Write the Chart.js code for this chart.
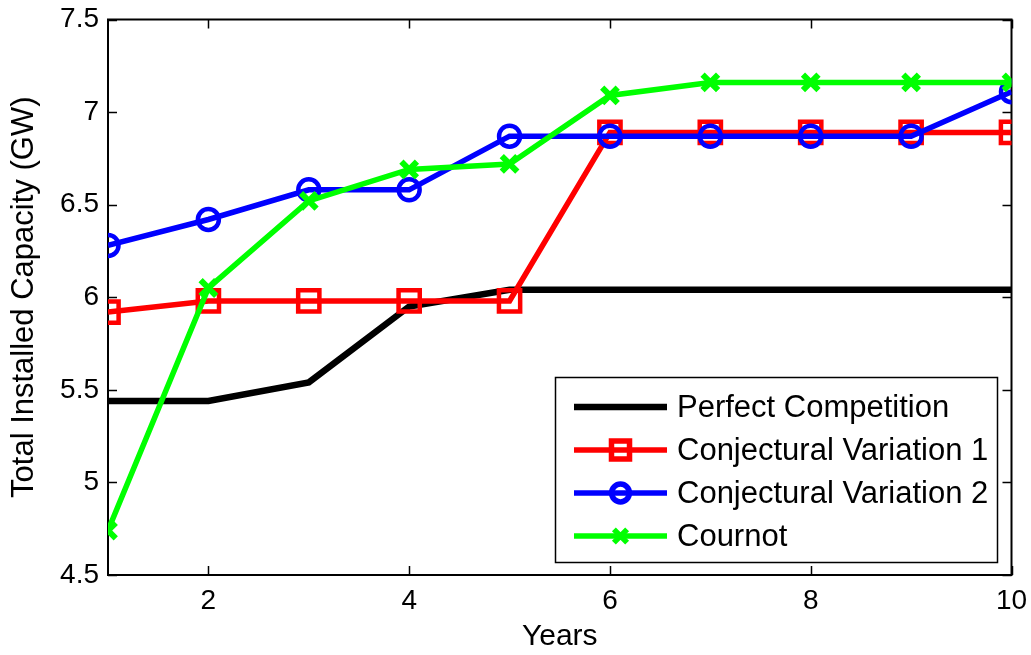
<!DOCTYPE html>
<html>
<head>
<meta charset="utf-8">
<title>Total Installed Capacity</title>
<script src="https://cdn.jsdelivr.net/npm/chart.js@4.4.1/dist/chart.umd.min.js"></script>
<style>
  html, body { margin: 0; padding: 0; background: #fff; }
  #chart { display: block; }
</style>
</head>
<body>
<canvas id="chart" width="1031" height="655"></canvas>
<script>
const years = [1, 2, 3, 4, 5, 6, 7, 8, 9, 10];
const perfectCompetition = [5.44, 5.44, 5.54, 5.95, 6.04, 6.04, 6.04, 6.04, 6.04, 6.04];
const conjVariation1 = [5.92, 5.98, 5.98, 5.98, 5.98, 6.89, 6.89, 6.89, 6.89, 6.89];
const conjVariation2 = [6.28, 6.42, 6.58, 6.58, 6.87, 6.87, 6.87, 6.87, 6.87, 7.11];
const cournot = [4.74, 6.05, 6.52, 6.69, 6.72, 7.09, 7.16, 7.16, 7.16, 7.16];
const xTicks = [2, 4, 6, 8, 10];
const yTicks = [4.5, 5, 5.5, 6, 6.5, 7, 7.5];

const FONT = "'Liberation Sans', Arial, Helvetica, sans-serif";

function toPoints(values) {
  return values.map((v, i) => ({ x: years[i], y: v }));
}

function series(label, values, color, style, radius, width, order) {
  return {
    label: label,
    data: toPoints(values),
    borderColor: color,
    backgroundColor: color,
    borderWidth: width,
    pointStyle: style,
    pointRadius: style ? radius : 0,
    pointHoverRadius: style ? radius : 0,
    pointBorderWidth: style === "crossRot" ? 6 : 4.5,
    pointBackgroundColor: "rgba(0,0,0,0)",
    pointBorderColor: color,
    tension: 0,
    order: order
  };
}

const datasets = [
  series("Perfect Competition", perfectCompetition, "#000000", false, 0, 6.5, 3),
  series("Conjectural Variation 1", conjVariation1, "#ff0000", "rect", 15, 5.5, 2),
  series("Conjectural Variation 2", conjVariation2, "#0000ff", "circle", 10.5, 5.5, 1),
  series("Cournot", cournot, "#00ff00", "crossRot", 11, 5.5, 0)
];

// axes box with inward ticks on all four sides
const axesBox = {
  id: "axesBox",
  beforeDatasetsDraw(chart) {
    const { ctx, chartArea: a, scales } = chart;
    ctx.save();
    ctx.strokeStyle = "#000";
    ctx.lineWidth = 2;
    ctx.strokeRect(a.left, a.top, a.right - a.left, a.bottom - a.top);
    ctx.lineWidth = 1.5;
    ctx.beginPath();
    const tl = 9;
    xTicks.forEach(v => {
      const x = Math.round(scales.x.getPixelForValue(v)) + 0.5;
      ctx.moveTo(x, a.bottom); ctx.lineTo(x, a.bottom - tl);
      ctx.moveTo(x, a.top); ctx.lineTo(x, a.top + tl);
    });
    yTicks.forEach(v => {
      const y = Math.round(scales.y.getPixelForValue(v)) + 0.5;
      ctx.moveTo(a.left, y); ctx.lineTo(a.left + tl, y);
      ctx.moveTo(a.right, y); ctx.lineTo(a.right - tl, y);
    });
    ctx.stroke();
    ctx.restore();
  }
};

// legend box in the lower right of the plot
const insetLegend = {
  id: "insetLegend",
  afterDatasetsDraw(chart) {
    const { ctx } = chart;
    const box = { x: 555, y: 377, w: 442, h: 185 };
    const rowY = [407, 450, 493, 536];
    ctx.save();
    ctx.fillStyle = "#fff";
    ctx.fillRect(box.x, box.y, box.w, box.h);
    ctx.strokeStyle = "#000";
    ctx.lineWidth = 1.5;
    ctx.strokeRect(box.x + 0.5, box.y + 0.5, box.w, box.h);
    chart.data.datasets.forEach((ds, i) => {
      const y = rowY[i];
      ctx.strokeStyle = ds.borderColor;
      ctx.lineWidth = ds.borderWidth;
      ctx.beginPath();
      ctx.moveTo(574, y);
      ctx.lineTo(667, y);
      ctx.stroke();
      if (ds.pointStyle) {
        ctx.fillStyle = "rgba(0,0,0,0)";
        ctx.strokeStyle = ds.borderColor;
        Chart.helpers.drawPoint(ctx, {
          pointStyle: ds.pointStyle,
          radius: ds.pointRadius * 0.85,
          rotation: 0,
          borderWidth: ds.pointBorderWidth
        }, 620.5, y);
      }
      ctx.fillStyle = "#000";
      ctx.font = "31px " + FONT;
      ctx.textAlign = "left";
      ctx.textBaseline = "middle";
      ctx.fillText(ds.label, 677, y + 1);
    });
    ctx.restore();
  }
};

new Chart(document.getElementById("chart"), {
  type: "line",
  data: { datasets: datasets },
  options: {
    responsive: false,
    animation: false,
    devicePixelRatio: 1,
    layout: { padding: { top: 18, right: 17, left: 0, bottom: 0 } },
    plugins: {
      legend: { display: false },
      tooltip: { enabled: false }
    },
    scales: {
      x: {
        type: "linear",
        min: 1,
        max: 10,
        grid: { display: false, drawTicks: false },
        border: { display: false },
        afterBuildTicks(s) { s.ticks = xTicks.map(v => ({ value: v })); },
        afterFit(s) {
          s.height = 80;
          s.paddingLeft = 0;
          s.paddingRight = 0;
        },
        ticks: {
          color: "#000",
          padding: 9,
          maxRotation: 0,
          font: { family: FONT, size: 28 },
          callback: v => String(v)
        },
        title: {
          display: true,
          text: "Years",
          color: "#000",
          font: { family: FONT, size: 30 },
          padding: { top: 0, bottom: 0 }
        }
      },
      y: {
        min: 4.5,
        max: 7.5,
        grid: { display: false, drawTicks: false },
        border: { display: false },
        afterBuildTicks(s) { s.ticks = yTicks.map(v => ({ value: v })); },
        afterFit(s) {
          s.width = 108;
          s.paddingTop = 0;
          s.paddingBottom = 0;
        },
        ticks: {
          color: "#000",
          padding: 9,
          font: { family: FONT, size: 28 },
          callback: v => String(+v.toFixed(1))
        },
        title: {
          display: true,
          text: "Total Installed Capacity (GW)",
          color: "#000",
          font: { family: FONT, size: 31 },
          padding: { top: 6, bottom: 0 }
        }
      }
    }
  },
  plugins: [axesBox, insetLegend]
});
</script>
</body>
</html>
